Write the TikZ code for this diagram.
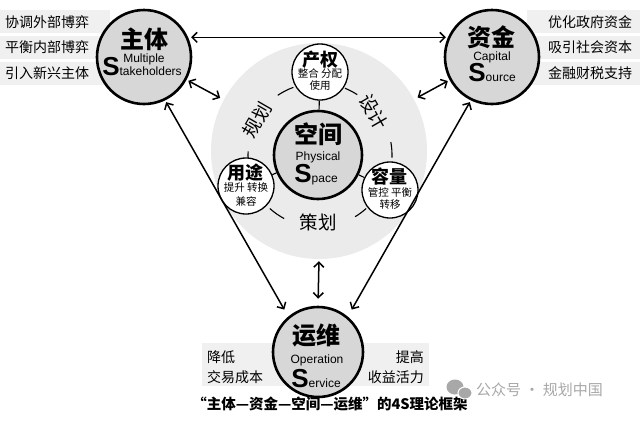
\documentclass[tikz,border=0pt]{standalone}
\usepackage{fontspec}
\setmainfont{Liberation Sans}
\newfontfamily\cjk{Noto Sans CJK SC}
\usetikzlibrary{arrows.meta}
\definecolor{cfill}{HTML}{D7D7D7}
\definecolor{bgfill}{HTML}{EBEBEB}
\definecolor{boxfill}{HTML}{F0F0F0}
\definecolor{wm}{HTML}{A8A8A8}
\begin{document}
\begin{tikzpicture}[x=1pt,y=-1pt,
  mainc/.style={circle,draw,line width=2.6pt,fill=cfill,minimum size=#1,inner sep=0pt},
  subc/.style={circle,draw,line width=1.3pt,fill=white,minimum size=56pt,inner sep=0pt},
  dbl/.style={{Straight Barb[length=5pt,width=10pt]}-{Straight Barb[length=5pt,width=10pt]},line width=1.5pt},
  ring/.style={line width=1.1pt},
  boxbg/.style={fill=boxfill,draw=none},
  boxt/.style={font=\cjk\fontsize{14}{14}\selectfont,inner sep=0pt},
  ctitle/.style={font=\cjk\bfseries\fontsize{24}{24}\selectfont,inner sep=0pt},
  stitle/.style={font=\cjk\bfseries\fontsize{18}{18}\selectfont,inner sep=0pt},
  ssmall/.style={font=\cjk\fontsize{10.5}{10.5}\selectfont,inner sep=0pt},
  rlabel/.style={font=\cjk\fontsize{18.5}{18.5}\selectfont,inner sep=0pt},
  en/.style={font=\fontsize{12}{12}\selectfont,inner sep=0pt,anchor=base}
]
\useasboundingbox (0,0) rectangle (640,424);
\fill[white] (0,0) rectangle (640,424);

% side boxes
\fill[boxbg] (0,10) rectangle (110,33);
\fill[boxbg] (0,36) rectangle (110,59);
\fill[boxbg] (0,62) rectangle (110,85);
\fill[boxbg] (527,10) rectangle (640,33);
\fill[boxbg] (527,36) rectangle (640,59);
\fill[boxbg] (527,62) rectangle (640,85);
\fill[boxbg] (202,343) rectangle (290,386);
\fill[boxbg] (345,343) rectangle (429,386);

% background disc
\node[circle,fill=bgfill,minimum size=216pt,inner sep=0pt] (bg) at (319,151) {};

% ring segments around the core
\draw[ring] ([shift={(-124:72)}]318,155) arc[start angle=-124,end angle=-110,radius=72];
\draw[ring] ([shift={(-68:72)}]318,155) arc[start angle=-68,end angle=-57,radius=72];
\draw[ring] ([shift={(176:70)}]318,155) arc[start angle=176,end angle=183,radius=70];
\draw[ring] ([shift={(-10:74)}]318,155) arc[start angle=-10,end angle=2,radius=74];
\draw[ring] ([shift={(118:72)}]318,155) arc[start angle=118,end angle=132,radius=72];
\draw[ring] ([shift={(48:72)}]318,155) arc[start angle=48,end angle=59,radius=72];

% main circles
\node[mainc=88pt] (kj) at (318,155) {};
\node[subc] (cq) at (320,72) {};
\node[subc] (yt) at (246,186) {};
\node[subc] (rl) at (390,190) {};
\node[mainc=94pt] (zt) at (144,57) {};
\node[mainc=94pt] (zj) at (492,57) {};
\node[mainc=90pt] (yw) at (318,352) {};

% links core - sub circles
\draw[line width=1.1pt] (kj) -- (cq);
\draw[line width=1.1pt] (kj) -- (yt);
\draw[line width=1.1pt] (kj) -- (rl);

% arrows
\draw[dbl,shorten <=3pt,shorten >=2pt] (zt.24) -- (zj.156);
\draw[dbl,shorten <=2pt,shorten >=4pt] (zt) -- (bg);
\draw[dbl,shorten <=2pt,shorten >=4pt] (zj) -- (bg);
\draw[dbl,shorten <=2pt,shorten >=8pt] (zt.-64) -- (yw.130);
\draw[dbl,shorten <=2pt,shorten >=8pt] (zj.-116) -- (yw.50);
\draw[dbl,shorten <=2pt,shorten >=7pt] (bg.south) -- (yw.north);

% box texts
\node[boxt,anchor=west] (t1) at (5,22) {协调外部博弈};
\node[boxt,anchor=west] (t2) at (5,47.5) {平衡内部博弈};
\node[boxt,anchor=west] (t3) at (5,73.5) {引入新兴主体};
\node[boxt,anchor=west] (t4) at (548,22) {优化政府资金};
\node[boxt,anchor=west] (t5) at (548,47.5) {吸引社会资本};
\node[boxt,anchor=west] (t6) at (548,73.5) {金融财税支持};
\node[boxt,anchor=west] (t7) at (207,357) {降低};
\node[boxt,anchor=west] (t8) at (207,377) {交易成本};
\node[boxt,anchor=east] (t9) at (424,357) {提高};
\node[boxt,anchor=east] (t10) at (424,377) {收益活力};

% main circle texts
\node[ctitle] (zt1) at (144,39) {主体};
\node[en] (zt2) at (144,62) {Multiple};
\node[en] (zt3) at (142,75) {{\fontsize{26}{26}\selectfont\bfseries S}takeholders};

\node[ctitle] (zj1) at (491,37) {资金};
\node[en] (zj2) at (492,60) {Capital};
\node[en] (zj3) at (492,81) {{\fontsize{26}{26}\selectfont\bfseries S}ource};

\node[ctitle] (kj1) at (318,134) {空间};
\node[en] (kj2) at (318,160) {Physical};
\node[en] (kj3) at (316,182) {{\fontsize{26}{26}\selectfont\bfseries S}pace};

\node[ctitle] (yw1) at (316,335) {运维};
\node[en] (yw2) at (317,363) {Operation};
\node[en] (yw3) at (316,387) {{\fontsize{26}{26}\selectfont\bfseries S}ervice};

% sub circle texts
\node[stitle] (cq1) at (320,59.5) {产权};
\node[ssmall] (cq2) at (320,74) {整合\ 分配};
\node[ssmall] (cq3) at (320,86) {使用};
\node[stitle] (yt1) at (245,173) {用途};
\node[ssmall] (yt2) at (246,188) {提升\ 转换};
\node[ssmall] (yt3) at (246,201) {兼容};
\node[stitle] (rl1) at (389,177) {容量};
\node[ssmall] (rl2) at (390,192) {管控\ 平衡};
\node[ssmall] (rl3) at (390,205) {转移};

% ring labels
\node[rlabel,rotate=60] (l1) at (257,120) {规划};
\node[rlabel,rotate=-60] (l2) at (374,112) {设计};
\node[rlabel] (l3) at (318,222) {策划};

% caption
\node[font=\cjk\bfseries\fontsize{14.5}{14.5}\selectfont,inner sep=0pt] (cap) at (330,404) {“主体—资金—空间—运维”的4S理论框架};

% watermark
\fill[wm] (455,387) ellipse (8.5 and 7.5);
\fill[wm,draw=white,line width=1pt] (465,393) ellipse (7 and 6);
\node[font=\cjk\fontsize{15}{15}\selectfont,text=wm,inner sep=0pt,anchor=west] (wmt) at (476,390) {公众号 · 规划中国};
\end{tikzpicture}
\end{document}
